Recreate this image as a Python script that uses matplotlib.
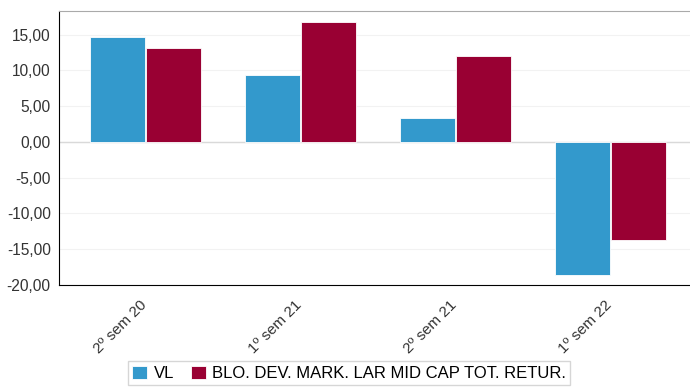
import matplotlib.pyplot as plt
import numpy as np

plt.rcParams['font.family'] = ['Liberation Sans', 'DejaVu Sans']

periods = ["2º sem 20", "1º sem 21", "2º sem 21", "1º sem 22"]
vl = [14.6, 9.3, 3.4, -18.6]
bench = [13.1, 16.8, 12.0, -13.7]
yticks = [-20, -15, -10, -5, 0, 5, 10, 15]

blue = "#3399cc"
red = "#990033"

fig = plt.figure(figsize=(6.9, 3.89), dpi=100)
ax = fig.add_axes([59 / 690, 1 - 285 / 389, 631 / 690, 274 / 389])

x = np.arange(len(periods))
w = 0.355
ax.bar(x - w / 2 - 0.003, vl, w, color=blue, edgecolor="white", linewidth=0.6, label="VL", zorder=3)
ax.bar(x + w / 2 + 0.003, bench, w, color=red, edgecolor="white", linewidth=0.6,
       label="BLO. DEV. MARK. LAR MID CAP TOT. RETUR.", zorder=3)

ax.set_xlim(-0.56, 3.51)
ax.set_ylim(-20, 18.3)
ax.set_yticks(yticks)
ax.set_yticklabels([f"{v:.2f}".replace(".", ",") for v in yticks], fontsize=11.2, color="#333333")
ax.yaxis.grid(True, color="#f2f2f2", linewidth=0.8, zorder=0)
ax.axhline(0, color="#d9d9d9", linewidth=1, zorder=2)
ax.tick_params(axis="y", length=0, pad=6)
ax.tick_params(axis="x", length=0, pad=9)

ax.set_xticks(x - 0.04)
ax.set_xticklabels(periods, rotation=45, ha="right", rotation_mode="anchor", fontsize=11, color="#333333")

ax.spines["right"].set_visible(False)
ax.spines["top"].set_color("#aaaaaa")
ax.spines["left"].set_color("black")
ax.spines["bottom"].set_color("black")

leg = fig.legend(loc="lower center", bbox_to_anchor=(349 / 690, -0.012), ncol=2, fontsize=12,
                 frameon=True, fancybox=False, handlelength=0.9, handleheight=0.9,
                 handletextpad=0.4, columnspacing=1.0, borderpad=0.25)
leg.get_frame().set_edgecolor("#cccccc")
leg.get_frame().set_linewidth(1)

fig.savefig("out.png", dpi=100)
